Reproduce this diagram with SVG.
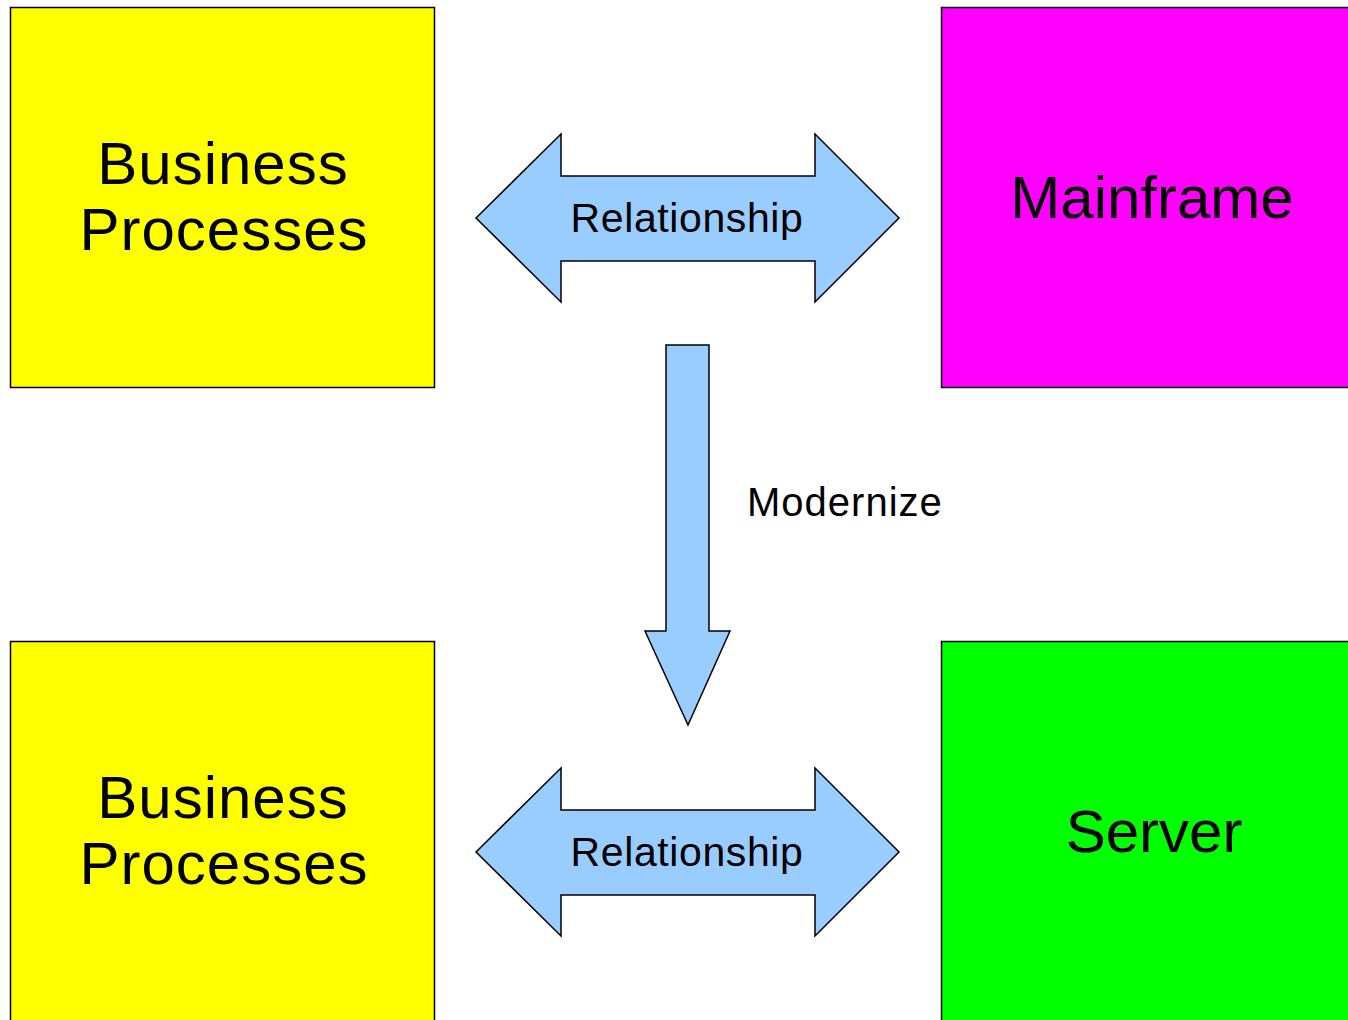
<svg xmlns="http://www.w3.org/2000/svg" width="1348" height="1020" viewBox="0 0 1348 1020">
<style>
.box{stroke:#000;stroke-width:1.5}
.arrow{fill:#99ccff;stroke:#000;stroke-width:1.5;stroke-linejoin:miter}
text{font-family:"Liberation Sans",Arial,sans-serif;fill:#000}
.big{font-size:60px;text-anchor:middle;letter-spacing:1px}
.tight{letter-spacing:0px}
.lbl{font-size:41px;text-anchor:middle;letter-spacing:0.6px}
</style>
<rect width="1348" height="1020" fill="#fff"/>
<g id="bp-top">
<rect class="box" x="10.5" y="7.5" width="424" height="380" fill="#ffff00"/>
<text class="big" x="223" y="184">Business</text>
<text class="big" x="224" y="250">Processes</text>
</g>
<g id="mainframe">
<rect class="box" x="941.5" y="7.5" width="410" height="380" fill="#ff00ff"/>
<text class="big tight" x="1152" y="218">Mainframe</text>
</g>
<g id="bp-bottom">
<rect class="box" x="10.5" y="641.5" width="424" height="384" fill="#ffff00"/>
<text class="big" x="223" y="818">Business</text>
<text class="big" x="224" y="884">Processes</text>
</g>
<g id="server">
<rect class="box" x="941.5" y="641.5" width="410" height="384" fill="#00ff00"/>
<text class="big tight" x="1154" y="852">Server</text>
</g>
<g id="connectors">
<g id="rel-top">
<polygon class="arrow" points="476,218 561,134 561,176 815,176 815,134 899,218 815,302 815,261 561,261 561,302"/>
<text class="lbl" x="687" y="232">Relationship</text>
</g>
<g id="rel-bottom">
<polygon class="arrow" points="476,852 561,768 561,810 815,810 815,768 899,852 815,936 815,895 561,895 561,936"/>
<text class="lbl" x="687" y="866">Relationship</text>
</g>
<g id="modernize">
<polygon class="arrow" points="666,345 709,345 709,631 730,631 688,725 645,631 666,631"/>
<text x="747" y="516" style="font-size:40px;letter-spacing:1px">Modernize</text>
</g>
</g>
</svg>
